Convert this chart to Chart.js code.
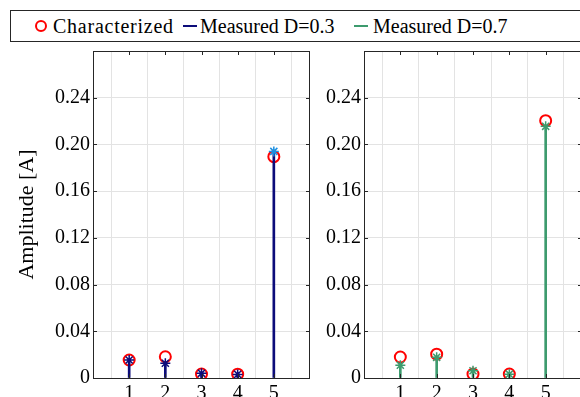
<!DOCTYPE html>
<html>
<head>
<meta charset="utf-8">
<script src="https://cdn.jsdelivr.net/npm/chart.js@4/dist/chart.umd.min.js"></script>
<style>
  html, body { margin: 0; padding: 0; width: 580px; height: 397px; overflow: hidden; background: #fff; }
  body { position: relative; }
  canvas { position: absolute; top: 0; }
  #legend { position: absolute; left: 10px; top: 10px; width: 620px; height: 32px; box-sizing: border-box;
            border: 1px solid #262626; background: #fff; font-family: "Liberation Serif", serif; font-size: 20px; color: #000; }
  #legend .txt { position: absolute; top: 0; height: 30px; line-height: 30px; white-space: nowrap; }
  #legend .mk-circle { position: absolute; width: 12px; height: 12px; box-sizing: border-box; border: 2px solid #ff0000; border-radius: 50%; top: 9px; }
  #legend .mk-line { position: absolute; width: 14px; height: 2px; top: 14px; }
</style>
</head>
<body>
<canvas id="left" width="340" height="410" style="left:0px"></canvas>
<canvas id="right" width="311" height="410" style="left:271px"></canvas>
<div id="legend">
  <span class="mk-circle" style="left:24px"></span><span class="txt" style="left:42px;letter-spacing:0.75px">Characterized</span>
  <span class="mk-line" style="left:172px;background:#0c0c7a"></span><span class="txt" style="left:189px">Measured D=0.3</span>
  <span class="mk-line" style="left:343px;background:#3d9b6e"></span><span class="txt" style="left:362px">Measured D=0.7</span>
</div>
<script>
// Harmonic amplitudes: characterized model vs. measurements at two duty cycles
const harmonics = [1, 2, 3, 4, 5];
const xTickValues = [1, 2, 3, 4, 5];
const yTickValues = [0, 0.04, 0.08, 0.12, 0.16, 0.20, 0.24];

const characterizedD03 = [0.0154, 0.0182, 0.0034, 0.0033, 0.1895];
const measuredD03      = [0.0154, 0.0126, 0.0040, 0.0031, 0.1940];
const characterizedD07 = [0.0180, 0.0204, 0.0034, 0.0034, 0.2203];
const measuredD07      = [0.0110, 0.0177, 0.0062, 0.0033, 0.2155];

const FONT = '"Liberation Serif", serif';
const RED = '#ff0000';
const NAVY = '#0c0c7a';
const LIGHT_BLUE = '#1c8fe0';
const GREEN = '#3d9b6e';
const AXIS = '#262626';
const GRID = '#e3e3e3';

const toPoints = vals => harmonics.map((h, i) => ({ x: h, y: vals[i] }));

// Closed box with inward tick marks on all four sides
const boxPlugin = {
  id: 'boxTicks',
  afterDraw(chart) {
    const { ctx, chartArea: a, scales: { x, y } } = chart;
    const len = 4;
    ctx.save();
    ctx.strokeStyle = AXIS;
    ctx.lineWidth = 1;
    ctx.beginPath();
    xTickValues.forEach(v => {
      const px = Math.round(x.getPixelForValue(v)) + 0.5;
      ctx.moveTo(px, a.bottom); ctx.lineTo(px, a.bottom - len);
      ctx.moveTo(px, a.top); ctx.lineTo(px, a.top + len);
    });
    yTickValues.forEach(v => {
      const py = Math.round(y.getPixelForValue(v)) + 0.5;
      ctx.moveTo(a.left, py); ctx.lineTo(a.left + len, py);
      ctx.moveTo(a.right, py); ctx.lineTo(a.right - len, py);
    });
    ctx.stroke();
    ctx.strokeRect(Math.round(a.left) + 0.5, Math.round(a.top) + 0.5,
                   Math.round(a.right - a.left) - 1, Math.round(a.bottom - a.top));
    ctx.restore();
  }
};

function makeChart(id, charVals, measVals, stemColor, markerColors, showTitle, rightPad) {
  return new Chart(document.getElementById(id), {
    type: 'scatter',
    data: {
      datasets: [
        {
          label: 'Measured',
          data: toPoints(measVals),
          pointStyle: 'star',
          pointRadius: 5,
          borderWidth: 1.5,
          pointBorderColor: markerColors,
          pointBackgroundColor: markerColors,
          order: 0
        },
        {
          type: 'bar',
          label: 'Stem',
          data: toPoints(measVals),
          backgroundColor: stemColor,
          borderWidth: 0,
          barThickness: 2,
          order: 1
        },
        {
          label: 'Characterized',
          data: toPoints(charVals),
          pointStyle: 'circle',
          pointRadius: 5.5,
          borderWidth: 2,
          pointBorderColor: RED,
          pointBackgroundColor: 'rgba(0,0,0,0)',
          order: 2
        }
      ]
    },
    options: {
      responsive: false,
      animation: false,
      layout: { autoPadding: false, padding: { top: 51, left: 0, right: rightPad, bottom: 0 } },
      plugins: { legend: { display: false }, tooltip: { enabled: false } },
      scales: {
        x: {
          type: 'linear',
          min: 0, max: 6,
          offset: false,
          afterBuildTicks: ax => { ax.ticks = xTickValues.map(v => ({ value: v })); },
          afterFit: ax => { ax.height = 32; },
          grid: { color: GRID, drawTicks: false },
          border: { display: false },
          ticks: { color: '#000', padding: 4, font: { family: FONT, size: 20 }, maxRotation: 0 }
        },
        y: {
          min: 0, max: 0.28,
          afterBuildTicks: ax => { ax.ticks = yTickValues.map(v => ({ value: v })); },
          afterFit: ax => { ax.width = 93; },
          grid: { color: ctx => ctx.tick && ctx.tick.value === 0 ? 'rgba(0,0,0,0)' : GRID, drawTicks: false },
          border: { display: false },
          ticks: {
            color: '#000', padding: 3, font: { family: FONT, size: 20 },
            callback: v => v === 0 ? '0' : v.toFixed(2)
          },
          title: {
            display: showTitle,
            text: 'Amplitude [A]',
            color: '#000',
            font: { family: FONT, size: 22 },
            padding: { top: 14, bottom: 0 }
          }
        }
      }
    },
    plugins: [boxPlugin]
  });
}

makeChart('left', characterizedD03, measuredD03, NAVY,
          [NAVY, NAVY, NAVY, NAVY, LIGHT_BLUE], true, 30);
makeChart('right', characterizedD07, measuredD07, GREEN,
          [GREEN, GREEN, GREEN, GREEN, GREEN], false, 0);
</script>
</body>
</html>
